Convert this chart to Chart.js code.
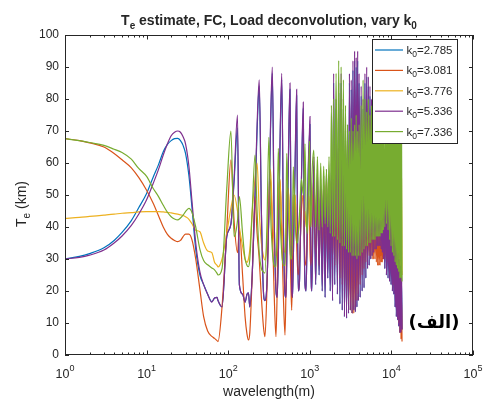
<!DOCTYPE html>
<html><head><meta charset="utf-8">
<script src="https://cdn.jsdelivr.net/npm/chart.js@4"></script>
<style>html,body{margin:0;padding:0;background:#fff}canvas{display:block}</style>
</head><body>
<canvas id="c" width="486" height="401"></canvas>
<script>
// ---- wavelength grid (m) ----
const wlSmooth = [1, 1.5, 2, 3, 4, 5, 6.5, 8, 10, 12, 14, 16, 18, 20, 22, 24, 26, 28, 30, 33, 36, 40, 45, 50, 56, 63, 68, 73];
const wlOsc = [75, 84, 96, 108, 118, 130, 137, 150, 161, 170, 177, 184, 197, 213, 226, 240, 255, 270, 282, 298, 315, 330, 347, 365, 385, 398, 411, 430, 453, 475, 497, 510, 521, 545, 572, 587, 600, 614, 628, 660, 690, 705, 722, 750, 790, 832, 852, 873, 900, 930, 960, 991, 1005, 1030, 1060];
const wlDense = [1120, 1180, 1240, 1300, 1360, 1420, 1480, 1540, 1600, 1660, 1720, 1780, 1840, 1900, 1960, 2020,
  2100, 2180, 2260, 2340, 2420, 2500, 2580, 2660, 2740, 2820, 2900, 2980, 3060, 3140, 3220, 3300, 3380, 3460, 3540, 3620, 3700, 3780, 3860, 3940, 4020,
  4140, 4260, 4380, 4500, 4620, 4740, 4860, 4980, 5100, 5220, 5340, 5460, 5580, 5700, 5820, 5940, 6060, 6180, 6300, 6420, 6540, 6660, 6780, 6900, 7020, 7140, 7260, 7380, 7500, 7620, 7740, 7860, 7980, 8100,
  8300, 8500, 8700, 8900, 9100, 9300, 9500, 9700, 9900, 10100, 10300, 10500, 10700, 10900, 11100, 11300, 11500, 11700, 11900, 12100, 12300, 12500, 12700, 12900, 13100, 13300, 13500];

// ---- Te (km), k0 = 2.785 ----
const te2785Smooth = [30, 30.8, 31.7, 33.5, 35.8, 38.3, 42, 46, 50.5, 55.5, 59.5, 63.5, 65.8, 67, 67.6, 67.7, 67, 65.5, 63, 56, 46, 33, 25, 22, 19, 16.7, 17.8, 18];
const te2785Osc = [17, 15, 37, 41, 54, 71, 22, 19, 16.5, 19, 19.4, 15, 25, 49, 70, 84, 45, 20, 17, 22, 44, 70, 88, 45, 20, 18, 30, 63, 86, 40, 19, 18, 28, 58, 83, 45, 20, 18, 30, 58, 81, 45, 20, 24, 54, 77, 40, 22, 20, 40, 58, 68, 72, 30, 20];
const te2785Dense = [59, 22, 55, 25, 52, 20, 53, 18, 55, 24,
  52, 20, 57, 17, 85, 22, 77, 19, 82, 16,
  85, 14, 77, 12, 67, 11.5, 69, 13, 85, 14,
  83, 13, 89, 14, 92, 13.5, 90, 15, 92, 17,
  85, 18, 81, 20, 77, 21, 85, 24, 87, 27,
  84, 28, 81, 30, 77, 31, 75, 32, 72, 33,
  69, 33, 67, 34, 65, 34, 62, 34, 59, 33,
  57, 32, 55, 30, 53, 27, 52, 25, 49, 24,
  45, 23, 42, 22, 39, 20, 37, 19, 35, 15,
  33, 12, 31, 11, 29, 9, 27, 7, 25, 7,
  23, 8];

// ---- k0 = 3.081 ----
const te3081Smooth = [67.6, 67, 66.3, 65, 63, 61, 58.5, 55.5, 51.5, 47.5, 43.5, 40, 37.7, 36.5, 35.8, 35.4, 35.8, 37, 37.8, 37.8, 36, 30, 20.5, 12, 7.5, 5.8, 5.2, 4.5];
const te3081Osc = [4.2, 15, 39, 61, 42, 32, 39, 25, 12, 6.5, 4.7, 7, 25, 49.5, 38, 30, 18, 9, 5.7, 20, 45, 55, 40, 20, 5.7, 20, 45, 55, 38, 18, 6.2, 20, 42, 52, 35, 22, 14, 28, 45, 50, 35, 28, 25, 30, 45, 50, 38, 30, 28, 35, 48, 45, 33, 28, 32];
const te3081Dense = [50, 30, 48, 28, 46, 33, 48, 27, 50, 30,
  47, 32, 48, 30, 50, 28, 52, 26, 50, 24,
  48, 22, 50, 20, 52, 18, 50, 16, 48, 14,
  50, 13, 52, 13, 50, 15, 48, 17, 50, 19,
  48, 22, 48, 25, 46, 27, 50, 29, 48, 30,
  46, 31, 48, 31, 50, 30, 46, 30, 48, 30,
  50, 29, 46, 28, 48, 28, 46, 28, 50, 29,
  48, 29, 45, 30, 44, 30, 42, 30, 40, 29,
  38, 28, 36, 27, 34, 24, 32, 22, 30, 20,
  28, 17, 26, 13, 24, 10, 22, 7, 20, 5,
  18, 4.2];

// ---- k0 = 3.776 ----
const te3776Smooth = [42.7, 43, 43.3, 43.7, 44, 44.3, 44.5, 44.7, 44.8, 44.8, 44.8, 44.7, 44.6, 44.4, 44.2, 44, 43.8, 43.6, 43.2, 42.4, 41, 39, 38.5, 35, 32.5, 32, 29, 28];
const te3776Osc = [27.5, 30, 38, 46, 50, 45, 40, 34, 30, 29, 30, 33, 45, 55, 60, 45, 35, 31, 29.7, 35, 50, 58, 45, 35, 31, 35, 50, 55, 42, 34, 32, 38, 50, 52, 40, 35, 34, 40, 50, 50, 40, 38, 38, 42, 50, 48, 42, 45, 40, 42, 50, 48, 42, 40, 45];
const te3776Dense = [55, 42, 52, 44, 50, 40, 53, 43, 55, 41,
  52, 40, 55, 39, 58, 38, 60, 38, 56, 37,
  55, 37, 58, 36, 55, 36, 56, 35, 55, 35,
  57, 35, 55, 35, 56, 35, 55, 35, 57, 35,
  55, 35, 56, 36, 55, 36, 57, 37, 55, 37,
  56, 38, 55, 38, 57, 38, 55, 38, 56, 38,
  55, 38, 57, 38, 55, 38, 56, 38, 55, 38,
  57, 38, 55, 38, 56, 38, 55, 39, 57, 38,
  55, 36, 56, 34, 55, 33, 56, 32, 55, 30,
  56, 29, 55, 28, 56, 27, 55, 26, 56, 25,
  55, 25];

// ---- k0 = 5.336 ----
const te5336Smooth = [30, 30.5, 31.2, 32.8, 35, 37.2, 40.5, 44, 48.5, 53.5, 58, 62.5, 66, 68.5, 69.6, 70, 69.6, 68.2, 66, 59, 48, 35, 26, 22, 19, 16.5, 17.8, 18];
const te5336Osc = [17, 15, 37, 41, 55, 75, 22, 19, 16.5, 19, 19.4, 15, 25, 50, 72, 86, 45, 20, 17, 22, 45, 72, 90, 45, 20, 18, 30, 65, 88, 40, 19, 18, 28, 60, 85, 45, 20, 18, 30, 60, 83, 45, 20, 24, 55, 79, 40, 22, 20, 40, 60, 70, 74.5, 30, 20];
const te5336Dense = [62, 22, 58, 25, 55, 20, 56, 18, 58, 24,
  55, 20, 60, 17, 88, 22, 80, 19, 85, 16,
  88, 14, 80, 12, 70, 11.5, 72, 13, 88, 14,
  86, 13, 92, 14, 95, 13.5, 93, 15, 95, 17,
  88, 18, 84, 20, 80, 21, 88, 24, 90, 27,
  87, 28, 84, 30, 80, 31, 78, 32, 75, 33,
  72, 33, 70, 34, 68, 34, 65, 34, 62, 33,
  60, 32, 58, 30, 56, 27, 55, 25, 52, 24,
  48, 23, 45, 22, 42, 20, 40, 19, 38, 15,
  36, 12, 34, 11, 32, 9, 30, 7, 28, 7,
  26, 8];

// ---- k0 = 7.336 ----
const te7336Smooth = [67.6, 67, 66.4, 65.5, 64.3, 63.3, 61.2, 58.3, 55.8, 52.1, 49.5, 46.8, 44.6, 43.2, 42.5, 42.2, 42.8, 43.7, 44.8, 45.8, 44.5, 40, 33, 29.5, 28.2, 27.2, 26.6, 25.5];
const te7336Osc = [25, 27, 52, 70, 37, 42, 49.5, 38, 30, 28, 27.6, 30, 45, 62.5, 45, 32, 27, 26, 25.6, 40, 68, 45, 33, 28, 27.5, 40, 64.6, 45, 32, 28, 28, 40, 63, 45, 33, 30, 30, 40, 58.8, 42, 35, 35, 38, 45, 55, 50, 55, 66, 45, 38, 50, 66.7, 50, 40, 55];
const te7336Dense = [64, 40, 62, 39, 60, 40, 59, 41, 58, 40,
  62, 38, 78, 37, 80, 37, 88, 36, 92, 35,
  90, 34, 86, 34, 78, 33, 72, 32, 70, 32,
  74, 31, 70, 31, 72, 31, 75, 30, 70, 31,
  72, 31, 78, 32, 86, 33, 80, 34, 76, 34,
  80, 35, 75, 35, 78, 36, 76, 36, 80, 36,
  74, 37, 78, 37, 75, 37, 80, 37, 76, 38,
  74, 38, 78, 39, 75, 40, 72, 41, 76, 39,
  74, 36, 78, 34, 72, 32, 75, 31, 73, 29,
  76, 28, 72, 27, 74, 26, 72, 24, 75, 24,
  72, 23];

// ---- labels / ticks ----
const k0Values = ['2.785', '3.081', '3.776', '5.336', '7.336'];
const seriesColors = ['#0072BD', '#D95319', '#EDB120', '#7E2F8E', '#77AC30'];
const yTicks = [0, 10, 20, 30, 40, 50, 60, 70, 80, 90, 100];
const xTickExponents = [0, 1, 2, 3, 4, 5];

const wavelength = wlSmooth.concat(wlOsc, wlDense);
function toPoints(a, b, c) {
  const v = a.concat(b, c);
  return wavelength.map((w, i) => ({ x: w, y: v[i] }));
}
const seriesValues = [
  toPoints(te2785Smooth, te2785Osc, te2785Dense),
  toPoints(te3081Smooth, te3081Osc, te3081Dense),
  toPoints(te3776Smooth, te3776Osc, te3776Dense),
  toPoints(te5336Smooth, te5336Osc, te5336Dense),
  toPoints(te7336Smooth, te7336Osc, te7336Dense)
];

const FONT = '"Liberation Sans", Arial, Helvetica, sans-serif';
const AXC = '#262626';

const matlabPlugin = {
  id: 'matlabAxes',
  afterDatasetsDraw(chart) {
    const { ctx, chartArea: a, scales } = chart;
    const xs = scales.x, ys = scales.y;
    const L = Math.round(a.left), R = Math.round(a.right), T = Math.round(a.top), B = Math.round(a.bottom);
    ctx.save();
    // legend box
    const lx = 372.5, ly = 39.5, lw = 85, lh = 104;
    ctx.fillStyle = '#fff';
    ctx.fillRect(lx, ly, lw, lh);
    ctx.strokeStyle = AXC; ctx.lineWidth = 1;
    ctx.strokeRect(lx, ly, lw, lh);
    k0Values.forEach((k, i) => {
      const yy = 50 + i * 20.4;
      ctx.strokeStyle = seriesColors[i]; ctx.lineWidth = 1.2;
      ctx.beginPath(); ctx.moveTo(375, yy); ctx.lineTo(403, yy); ctx.stroke();
      ctx.fillStyle = AXC; ctx.textBaseline = 'alphabetic'; ctx.textAlign = 'left';
      let xx = 406.5;
      ctx.font = '11.5px ' + FONT;
      ctx.fillText('k', xx, yy + 4); xx += ctx.measureText('k').width;
      ctx.font = '8.5px ' + FONT;
      ctx.fillText('0', xx, yy + 7); xx += ctx.measureText('0').width;
      ctx.font = '11.5px ' + FONT;
      ctx.fillText('=' + k, xx, yy + 4);
    });
    // axes box
    ctx.strokeStyle = AXC; ctx.lineWidth = 1;
    ctx.strokeRect(L + 0.5, T + 0.5, R - L - 1, B - T - 1);
    // y ticks (inward, both sides)
    ctx.beginPath();
    yTicks.forEach(v => {
      const py = Math.round(ys.getPixelForValue(v)) + 0.5;
      ctx.moveTo(L, py); ctx.lineTo(L + 4, py);
      ctx.moveTo(R, py); ctx.lineTo(R - 4, py);
    });
    // x ticks (log, major + minor)
    xTickExponents.forEach(e => {
      for (let m = 1; m <= 9; m++) {
        if (e === 5 && m > 1) break;
        const px = Math.round(xs.getPixelForValue(m * Math.pow(10, e))) + 0.5;
        const len = m === 1 ? 4.5 : 2.5;
        ctx.moveTo(px, B); ctx.lineTo(px, B - len);
        ctx.moveTo(px, T); ctx.lineTo(px, T + len);
      }
    });
    ctx.stroke();
    // x tick labels 10^e
    ctx.fillStyle = AXC; ctx.textAlign = 'left'; ctx.textBaseline = 'alphabetic';
    xTickExponents.forEach(e => {
      const px = xs.getPixelForValue(Math.pow(10, e));
      ctx.font = '12.5px ' + FONT; const w1 = ctx.measureText('10').width;
      ctx.font = '9px ' + FONT; const w2 = ctx.measureText(String(e)).width;
      const sx = px - (w1 + w2) / 2;
      ctx.font = '12.5px ' + FONT; ctx.fillText('10', sx, 377.5);
      ctx.font = '9px ' + FONT; ctx.fillText(String(e), sx + w1, 370.5);
    });
    // x title
    ctx.font = '14px ' + FONT; ctx.textAlign = 'center';
    ctx.fillText('wavelength(m)', (L + R) / 2, 395.5);
    // y title (rotated) T_e (km)
    ctx.save();
    ctx.translate(26, 204); ctx.rotate(-Math.PI / 2);
    ctx.font = '14px ' + FONT; const wT = ctx.measureText('T').width;
    ctx.font = '10px ' + FONT; const wE = ctx.measureText('e').width;
    ctx.font = '14px ' + FONT; const wK = ctx.measureText(' (km)').width;
    let sx = -(wT + wE + wK) / 2;
    ctx.textAlign = 'left';
    ctx.font = '14px ' + FONT; ctx.fillText('T', sx, 0); sx += wT;
    ctx.font = '10px ' + FONT; ctx.fillText('e', sx, 3.5); sx += wE;
    ctx.font = '14px ' + FONT; ctx.fillText(' (km)', sx, 0);
    ctx.restore();
    // title
    const BF = 'bold 14px ' + FONT, SF = 'bold 10px ' + FONT;
    const parts = [['T', BF, 0], ['e', SF, 3.5], [' estimate, FC, Load deconvolution, vary k', BF, 0], ['0', SF, 3.5]];
    let tw = 0;
    parts.forEach(p => { ctx.font = p[1]; tw += ctx.measureText(p[0]).width; });
    let tx = (L + R) / 2 - tw / 2;
    ctx.textAlign = 'left';
    parts.forEach(p => { ctx.font = p[1]; ctx.fillText(p[0], tx, 25 + p[2]); tx += ctx.measureText(p[0]).width; });
    // panel label
    ctx.fillStyle = '#000';
    ctx.font = 'bold 18px "DejaVu Sans", sans-serif';
    ctx.textAlign = 'center'; ctx.textBaseline = 'middle';
    ctx.fillText('(الف)', 434, 323);
    ctx.restore();
  }
};

new Chart(document.getElementById('c'), {
  type: 'line',
  data: {
    datasets: seriesValues.map((pts, i) => ({
      label: 'k0=' + k0Values[i],
      data: pts,
      borderColor: seriesColors[i],
      backgroundColor: seriesColors[i],
      borderWidth: 1.2,
      pointRadius: 0,
      fill: false,
      cubicInterpolationMode: 'monotone',
      order: 4 - i
    }))
  },
  options: {
    responsive: false,
    animation: false,
    events: [],
    parsing: false,
    layout: { padding: { left: 0, right: 13, top: 35, bottom: 0 } },
    plugins: { legend: { display: false }, title: { display: false }, tooltip: { enabled: false } },
    scales: {
      x: {
        type: 'logarithmic', min: 1, max: 100000,
        ticks: { display: false },
        grid: { display: false, drawTicks: false },
        border: { display: false },
        afterFit(s) { s.height = 46; }
      },
      y: {
        type: 'linear', min: 0, max: 100,
        ticks: { stepSize: 10, padding: 6, color: AXC, font: { family: FONT, size: 12 } },
        grid: { display: false, drawTicks: false },
        border: { display: false },
        afterFit(s) { s.width = 65; }
      }
    }
  },
  plugins: [matlabPlugin]
});
</script>
</body></html>
